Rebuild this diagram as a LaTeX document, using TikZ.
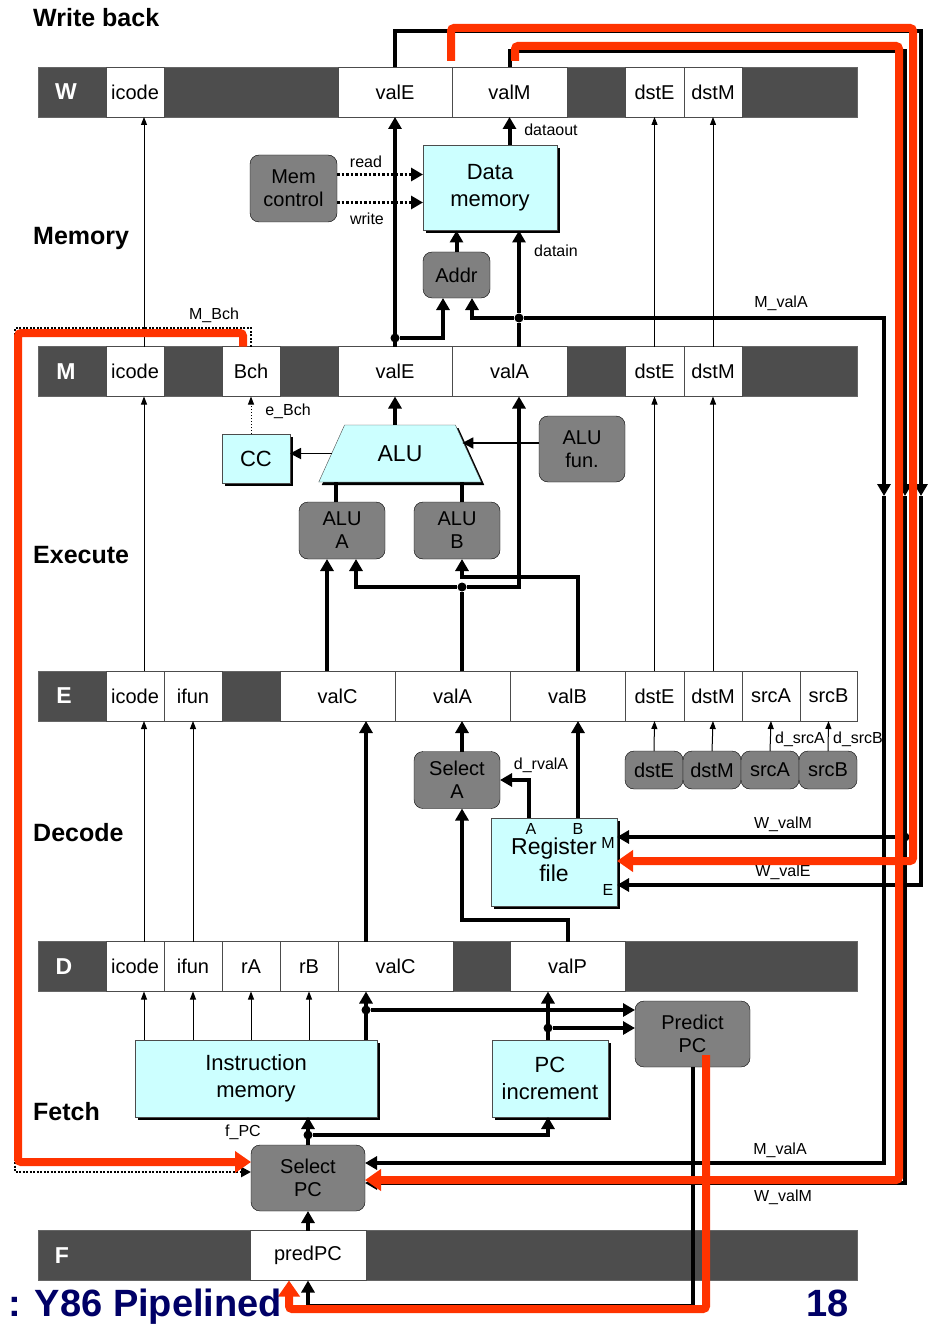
\documentclass[tikz,border=0pt]{standalone}
\usepackage{fontspec}
\setmainfont{Liberation Sans}
\usepackage{tikz}
\usetikzlibrary{shapes}
\usetikzlibrary{shapes.geometric}
\usetikzlibrary{arrows.meta}
\usetikzlibrary{shadows}
\usetikzlibrary{calc}
\usetikzlibrary{positioning}
\definecolor{regdark}{HTML}{4D4D4D}
\definecolor{boxcyan}{HTML}{CCFFFF}
\definecolor{ctlgray}{HTML}{808080}
\definecolor{hired}{HTML}{FF3300}
\definecolor{titleblue}{HTML}{000066}

\begin{document}
\begin{tikzpicture}[x=1pt, y=-1pt,
  bar/.style={draw=black!60, fill=regdark, inner sep=0pt, outer sep=0pt, minimum height=50},
  cell/.style={draw=black!70, fill=white, inner sep=0pt, outer sep=0pt, minimum height=50, font=\fontsize{20}{22}\selectfont},
  regname/.style={text=white, font=\bfseries\fontsize{23}{24}\selectfont},
  stage/.style={anchor=west, inner sep=0pt, font=\bfseries\fontsize{25}{26}\selectfont},
  hw/.style={draw=black!70, fill=boxcyan, inner sep=0pt, outer sep=0pt, align=center, general shadow={fill=black, shadow xshift=3pt, shadow yshift=-3pt}, font=\fontsize{22}{27}\selectfont},
  ctl/.style={draw=black, fill=ctlgray, rounded corners=9pt, inner sep=0pt, outer sep=0pt, align=center, font=\fontsize{20}{23}\selectfont},
  alu/.style={trapezium, trapezium angle=57, trapezium stretches=true, minimum width=163, minimum height=57, draw=black!70, fill=boxcyan, inner sep=0pt, outer sep=0pt, general shadow={fill=black, shadow xshift=3pt, shadow yshift=-3pt}, font=\fontsize{23}{24}\selectfont},
  sig/.style={inner sep=0pt, font=\fontsize{16}{17}\selectfont},
  port/.style={inner sep=0pt, font=\fontsize{16}{17}\selectfont},
  joint/.style={circle, fill=black, inner sep=0pt, minimum size=9pt},
  bus/.style={line width=4pt, -{Triangle[length=12pt, width=13pt]}},
  busline/.style={line width=4pt},
  medbus/.style={line width=1.8pt, -{Triangle[length=11pt, width=11pt]}},
  wire/.style={line width=1pt, -{Triangle[length=8pt, width=6pt]}},
  ctrlsig/.style={line width=3pt, dash pattern=on 2.5pt off 2pt, -{Triangle[length=12pt, width=13pt]}},
  hot/.style={draw=hired, line width=8pt, rounded corners=3pt},
  hotarrow/.style={hot, -{Triangle[length=16pt, width=21pt]}},
  slidefoot/.style={anchor=base west, inner sep=0pt, text=titleblue, font=\bfseries\fontsize{38}{38}\selectfont}]
\useasboundingbox (0,0) rectangle (929,1324);
\fill[white] (0,0) rectangle (929,1324);

% stage names
\node[stage] at (33,18) {Write back};
\node[stage] at (33,238) {Memory};
\node[stage] at (33,555) {Execute};
\node[stage] at (33,833) {Decode};
\node[stage] at (33,1112) {Fetch};

% W register
\node[bar, minimum width=819] (Wbar) at (447.5,92) {};
\node[regname] (Wname) at (66,92) {W};
\node[cell, minimum width=58] (Wicode) at (135,92) {icode};
\node[cell, minimum width=114] (WvalE) at (395,92) {valE};
\node[cell, minimum width=115] (WvalM) at (509.5,92) {valM};
\node[cell, minimum width=59] (WdstE) at (654.5,92) {dstE};
\node[cell, minimum width=58] (WdstM) at (713,92) {dstM};

% M register
\node[bar, minimum width=819] (Mbar) at (447.5,371.5) {};
\node[regname] (Mname) at (66,371.5) {M};
\node[cell, minimum width=58] (Micode) at (135,371.5) {icode};
\node[cell, minimum width=58] (MBch) at (251,371.5) {Bch};
\node[cell, minimum width=114] (MvalE) at (395,371.5) {valE};
\node[cell, minimum width=115] (MvalA) at (509.5,371.5) {valA};
\node[cell, minimum width=59] (MdstE) at (654.5,371.5) {dstE};
\node[cell, minimum width=58] (MdstM) at (713,371.5) {dstM};

% E register
\node[bar, minimum width=819] (Ebar) at (447.5,696) {};
\node[regname] (Ename) at (64,696) {E};
\node[cell, minimum width=58] (Eicode) at (135,696) {icode};
\node[cell, minimum width=58] (Eifun) at (193,696) {ifun};
\node[cell, minimum width=115] (EvalC) at (337.5,696) {valC};
\node[cell, minimum width=115] (EvalA) at (452.5,696) {valA};
\node[cell, minimum width=115] (EvalB) at (567.5,696) {valB};
\node[cell, minimum width=59] (EdstE) at (654.5,696) {dstE};
\node[cell, minimum width=58] (EdstM) at (713,696) {dstM};
\node[cell, minimum width=58] (EsrcA) at (771,696) {srcA};
\node[cell, minimum width=57] (EsrcB) at (828.5,696) {srcB};

% D register
\node[bar, minimum width=819] (Dbar) at (447.5,966.5) {};
\node[regname] (Dname) at (64,966.5) {D};
\node[cell, minimum width=58] (Dicode) at (135,966.5) {icode};
\node[cell, minimum width=58] (Difun) at (193,966.5) {ifun};
\node[cell, minimum width=58] (DrA) at (251,966.5) {rA};
\node[cell, minimum width=58] (DrB) at (309,966.5) {rB};
\node[cell, minimum width=115] (DvalC) at (395.5,966.5) {valC};
\node[cell, minimum width=115] (DvalP) at (567.5,966.5) {valP};

% F register
\node[bar, minimum width=819] (Fbar) at (447.5,1255.5) {};
\node[regname] (Fname) at (62,1255.5) {F};
\node[cell, minimum width=116] (FpredPC) at (308,1255.5) {predPC};

% memory stage
\node[hw, minimum width=134, minimum height=85] (Dmem) at (490,188) {Data\\memory};
\node[ctl, minimum width=87, minimum height=67] (Mctl) at (293.5,188.5) {Mem\\control};
\node[ctl, minimum width=67, minimum height=46] (Addr) at (456.5,275) {Addr};

% execute stage
\node[alu] (ALU) at (400,453.5) {ALU};
\node[hw, minimum width=68, minimum height=49] (CC) at (256,458.5) {CC};
\node[ctl, minimum width=86, minimum height=66] (ALUfun) at (582,449) {ALU\\fun.};
\node[ctl, minimum width=86, minimum height=57] (ALUA) at (342,530.5) {ALU\\A};
\node[ctl, minimum width=86, minimum height=57] (ALUB) at (457,530.5) {ALU\\B};

% decode stage
\node[ctl, minimum width=86, minimum height=57] (SelA) at (457,780) {Select\\A};
\node[hw, minimum width=126, minimum height=88, font=\fontsize{23}{27}\selectfont] (RF) at (554,862) {\\[-14pt]Register\\file};
\node[port] at (531,829) {A};
\node[port] at (578,829) {B};
\node[port] at (608,843) {M};
\node[port] at (608,890) {E};
\node[ctl, minimum width=58, minimum height=38] (dstEsel) at (654,770) {dstE};
\node[ctl, minimum width=58, minimum height=38] (dstMsel) at (712,770) {dstM};
\node[ctl, minimum width=58, minimum height=38] (srcAsel) at (770,770) {srcA};
\node[ctl, minimum width=58, minimum height=38] (srcBsel) at (828,770) {srcB};

% fetch stage
\node[hw, minimum width=242, minimum height=77] (IM) at (256,1078.5) {Instruction\\memory};
\node[hw, minimum width=116, minimum height=77] (PCinc) at (550,1078.5) {PC\\increment};
\node[ctl, minimum width=115, minimum height=66] (PredPC) at (692.5,1034) {Predict\\PC};
\node[ctl, minimum width=114, minimum height=66] (SelPC) at (308,1178) {Select\\PC};

% memory connections
\coordinate (rdOut) at ([yshift=14pt]Mctl.east);
\coordinate (wrOut) at ([yshift=-14pt]Mctl.east);
\draw[ctrlsig] (rdOut) -- (rdOut -| Dmem.west);
\draw[ctrlsig] (wrOut) -- (wrOut -| Dmem.west);
\node[sig] at (366,162) {read};
\node[sig] at (367,219) {write};
\node[joint] (vEm) at (395,338) {};
\draw[bus] (MvalE.north) -- (WvalE.south);
\coordinate (addrL) at ([xshift=-13.5pt]Addr.south);
\coordinate (addrR) at ([xshift=15.5pt]Addr.south);
\draw[bus] (vEm) -| (addrL);
\draw[bus] (Addr.north) -- (Addr.north |- Dmem.south);
\node[joint] (vAm) at (519,318) {};
\draw[busline] (vAm |- MvalA.north) -- (vAm);
\draw[bus] (vAm) -- (vAm |- Dmem.south);
\draw[bus] (vAm) -| (addrR);
\draw[bus] (WvalM.south |- Dmem.north) -- (WvalM.south);
\node[sig] at (551,130) {dataout};
\node[sig] at (556,251) {datain};
\draw[wire] ([xshift=9pt]Micode.north) -- ([xshift=9pt]Wicode.south);
\draw[wire] (MdstE.north) -- (WdstE.south);
\draw[wire] (MdstM.north) -- (WdstM.south);

% forwarding columns on the right
\coordinate (mvaTop) at (884,318);
\coordinate (mvaMid) at (884,496);
\coordinate (mvaBot) at (884,1163);
\draw[bus] (vAm) -- (mvaTop) -- (mvaMid);
\draw[bus] (mvaMid) -- (mvaBot) -- (mvaBot -| SelPC.east);
\node[sig] at (781,303) {M\_valA};
\node[sig] at (780,1150) {M\_valA};
\coordinate (wvETop) at (921,31);
\coordinate (wvEMid) at (921,496);
\coordinate (wvEBot) at (921,885);
\draw[bus] (WvalE.north) |- (wvETop) -- (wvEMid);
\draw[bus] (wvEMid) -- (wvEBot) -- (wvEBot -| RF.east);
\coordinate (wvMTop) at (905,51);
\coordinate (wvMMid) at (905,496);
\coordinate (wvMBot) at (905,1183);
\node[joint] (wvM) at (905,837) {};
\draw[bus] (WvalM.north) |- (wvMTop) -- (wvMMid);
\draw[bus] (wvMMid) -- (wvMBot) -- (wvMBot -| SelPC.east);
\draw[bus] (wvM) -- (wvM -| RF.east);
\node[sig] at (783,824) {W\_valM};
\node[sig] at (783,872) {W\_valE};
\node[sig] at (783,1197) {W\_valM};

% execute connections
\draw[bus] (MvalE.south |- ALU.north) -- (MvalE.south);
\draw[medbus] (ALU.west) -- (ALU.west -| CC.east);
\coordinate (funOut) at ([yshift=6pt]ALUfun.west);
\coordinate (aluIn) at ([xshift=-6pt]ALU.east);
\draw[medbus] (funOut) -- (funOut -| aluIn);
\draw[wire, dotted] (MBch.south |- CC.north) -- (MBch.south);
\node[sig] at (288,411) {e\_Bch};
\coordinate (aluAin) at ([xshift=-6pt]ALUA.north);
\draw[busline] (aluAin) -- (aluAin |- ALU.south);
\coordinate (aluBin) at ([xshift=5pt]ALUB.north);
\draw[busline] (aluBin) -- (aluBin |- ALU.south);
\coordinate (eValC) at ([xshift=-10.5pt]EvalC.north);
\draw[bus] (eValC) -- (eValC |- ALUA.south);
\node[joint] (vAe) at (462,587) {};
\draw[busline] (vAe |- EvalA.north) -- (vAe);
\coordinate (aluA2) at ([xshift=14pt]ALUA.south);
\draw[bus] (vAe) -| (aluA2);
\draw[bus] (vAe) -| (vAm |- MvalA.south);
\coordinate (vBe) at (578,577);
\coordinate (aluBlo) at ([xshift=5pt]ALUB.south);
\draw[bus] (vBe |- EvalB.north) -- (vBe) -| (aluBlo);
\draw[wire] ([xshift=9pt]Eicode.north) -- ([xshift=9pt]Micode.south);
\draw[wire] (EdstE.north) -- (MdstE.south);
\draw[wire] (EdstM.north) -- (MdstM.south);

% decode connections
\coordinate (selAout) at ([xshift=5pt]SelA.north);
\draw[bus] (selAout) -- (selAout |- EvalA.south);
\coordinate (rfA) at ([xshift=-25pt]RF.north);
\draw[bus] (rfA) |- (SelA.east);
\node[sig] at (541,765) {d\_rvalA};
\coordinate (rfB) at ([xshift=24pt]RF.north);
\draw[bus] (rfB) -- (rfB |- EvalB.south);
\coordinate (selAin) at ([xshift=5pt]SelA.south);
\draw[bus] (DvalP.north) -- ++(0,-22) -| (selAin);
\draw[wire] (dstEsel.north) -- (EdstE.south);
\draw[wire] (dstMsel.north) -- (EdstM.south);
\draw[wire] (srcAsel.north) -- (EsrcA.south);
\draw[wire] (srcBsel.north) -- (EsrcB.south);
\node[sig] at (800,739) {d\_srcA};
\node[sig] at (858,739) {d\_srcB};
\draw[wire] ([xshift=9pt]Dicode.north) -- ([xshift=9pt]Eicode.south);
\draw[wire] (Difun.north) -- (Eifun.south);
\node[joint] (vCf) at (366,1010) {};
\draw[bus] (vCf |- DvalC.north) -- (vCf |- EvalC.south);

% fetch connections
\coordinate (imIc) at ([xshift=9pt]Dicode.south);
\draw[wire] (imIc |- IM.north) -- (imIc);
\draw[wire] (Difun.south |- IM.north) -- (Difun.south);
\draw[wire] (DrA.south |- IM.north) -- (DrA.south);
\draw[wire] (DrB.south |- IM.north) -- (DrB.south);
\draw[bus] (vCf |- IM.north) -- (vCf |- DvalC.south);
\draw[bus] (vCf) -- (vCf -| PredPC.west);
\node[joint] (vPf) at (548,1028) {};
\draw[bus] (vPf |- PCinc.north) -- (vPf |- DvalP.south);
\draw[bus] (vPf) -- (vPf -| PredPC.west);
\node[joint] (fpc) at (308,1135) {};
\draw[bus] (SelPC.north) -- (SelPC.north |- IM.south);
\draw[bus] (fpc) -| (vPf |- PCinc.south);
\node[sig] at (243,1132) {f\_PC};
\draw[bus] (FpredPC.north) -- (SelPC.south);
\coordinate (ppLow) at (693,1306);
\draw[bus] (PredPC.south) -- (PredPC.south |- ppLow) -| (FpredPC.south);

% branch signal
\coordinate (mbLeft) at (15,328);
\coordinate (mbLow) at (15,1172);
\draw[line width=2.5pt, dash pattern=on 2pt off 1.5pt, -{Triangle[length=10pt, width=10pt]}] (MBch.north) |- (mbLeft) -- (mbLow) -- (mbLow -| SelPC.west);
\node[sig] at (214,315) {M\_Bch};

% highlighted paths
\coordinate (hotA0) at (451,61);
\coordinate (hotA1) at (451,28);
\coordinate (hotA2) at (913,28);
\coordinate (hotA3) at (913,861);
\draw[hotarrow] (hotA0) -- (hotA1) -- (hotA2) -- (hotA3) -- (hotA3 -| RF.east);
\coordinate (hotB0) at (515,61);
\coordinate (hotB1) at (515,46);
\coordinate (hotB2) at (899,46);
\coordinate (hotB3) at (899,1180);
\draw[hotarrow] (hotB0) -- (hotB1) -- (hotB2) -- (hotB3) -- (hotB3 -| SelPC.east);
\coordinate (hotC0) at ([xshift=-8pt]MBch.north);
\coordinate (hotC1) at (18,333);
\coordinate (hotC2) at (18,1162);
\draw[hotarrow] (hotC0) |- (hotC1) -- (hotC2) -- (hotC2 -| SelPC.west);
\coordinate (hotD0) at (706,1055);
\coordinate (hotD1) at (706,1309);
\coordinate (hotD2) at (289,1309);
\draw[hotarrow] (hotD0) -- (hotD1) -- (hotD2) -- (hotD2 |- FpredPC.south);

% footer
\node[slidefoot] (title) at (8,1316) {: Y86 Pipelined};
\node[slidefoot] (pageno) at (806,1316) {18};
\end{tikzpicture}
\end{document}
